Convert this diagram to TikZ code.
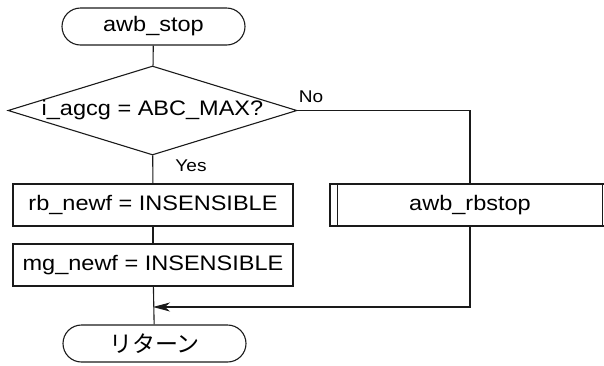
\documentclass[tikz,border=0pt]{standalone}
\usepackage{fontspec}
\setmainfont{Liberation Sans}[FakeStretch=1.12]
\newfontfamily\jpfuente{Noto Sans CJK JP}
\usepackage{tikz}
\usetikzlibrary{arrows.meta,calc,positioning,shapes.geometric}
\definecolor{tinta}{HTML}{1A1A1A}
\tikzset{
  terminal/.style={rectangle,rounded corners=18.5pt,draw=tinta,line width=1.1pt,minimum width=183pt,minimum height=37pt,inner sep=0pt,font=\fontsize{21}{25}\selectfont},
  proceso/.style={rectangle,draw=tinta,line width=1.1pt,minimum width=280pt,minimum height=42pt,inner sep=0pt,font=\fontsize{21}{25}\selectfont},
  subproc/.style={proceso},
  decision/.style={diamond,draw=tinta,line width=1.1pt,minimum width=289pt,minimum height=89pt,inner sep=0pt},
  texto/.style={inner sep=0pt,font=\fontsize{21}{25}\selectfont},
  etiq/.style={inner sep=0pt,font=\fontsize{17}{20}\selectfont},
  arista/.style={draw=tinta,line width=1.1pt},
  punta/.style={-{Stealth[length=17pt,width=9pt,inset=5pt]}},
}

\begin{document}
\begin{tikzpicture}[x=1pt,y=-1pt]
\useasboundingbox (0,0) rectangle (604,365);
\clip (0,0) rectangle (604,365);
% nodos
\node[terminal] (inicio) at (153.5,26.5) {awb\_stop};
\node[decision] (cond) at (152.5,110.5) {};
\node[texto] (condtxt) at (cond) {i\_agcg = ABC\_MAX?};
\node[proceso] (rb) at (153,205) {rb\_newf = INSENSIBLE};
\node[proceso] (mg) at (153,265) {mg\_newf = INSENSIBLE};
\node[terminal] (fin) at (154.5,343.5) {\jpfuente\fontsize{23}{26}\selectfont リターン};
\node[subproc] (rbstop) at (470,205) {awb\_rbstop};
\node[etiq] (lno) at (311,97) {No};
\node[etiq] (lsi) at (191,166) {Yes};
\coordinate (junta) at (153,307);
% aristas
\draw[arista] (inicio) -- (cond);
\draw[arista] (cond) -- (rb);
\draw[arista] (rb) -- (mg);
\draw[arista] (mg) -- (fin);
\draw[arista] (cond.east) -| (rbstop.north);
\draw[arista,punta] (rbstop.south) |- (junta);
\draw[arista] ([xshift=8pt]rbstop.north west) -- ([xshift=8pt]rbstop.south west);
\draw[arista] ([xshift=-8pt]rbstop.north east) -- ([xshift=-8pt]rbstop.south east);
\end{tikzpicture}
\end{document}
